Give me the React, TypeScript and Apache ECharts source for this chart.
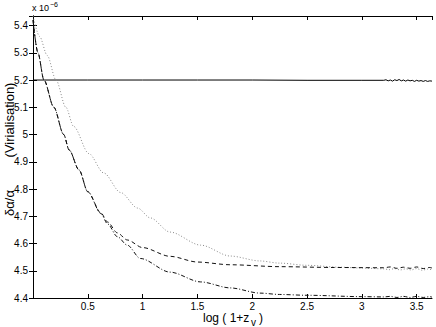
import React, { useEffect, useRef } from "react";
import * as echarts from "echarts";

// values in units of 1e-6
const solidX = [0.0, 0.5, 1.0, 1.5, 2.0, 2.5, 3.0, 3.2, 3.22, 3.24, 3.26, 3.28, 3.3, 3.32, 3.34, 3.36, 3.38, 3.4, 3.42, 3.44, 3.46, 3.48, 3.5, 3.52, 3.54, 3.56, 3.58, 3.6, 3.62, 3.64];
const solidY = [5.2, 5.2, 5.2, 5.2, 5.2, 5.199, 5.199, 5.199, 5.201, 5.197, 5.2, 5.196, 5.201, 5.198, 5.202, 5.197, 5.2, 5.196, 5.2, 5.197, 5.199, 5.195, 5.199, 5.196, 5.198, 5.195, 5.198, 5.195, 5.197, 5.196];

const dottedX = [0.0, 0.06, 0.13, 0.21, 0.3, 0.37, 0.51, 0.645, 0.8, 0.955, 1.07, 1.25, 1.53, 1.8, 2.07, 2.25, 2.5, 2.8, 3.0, 3.2, 3.25, 3.3, 3.35, 3.4, 3.45, 3.5, 3.55, 3.6, 3.64];
const dottedY = [5.435, 5.36, 5.29, 5.2, 5.1, 5.03, 4.93, 4.859, 4.787, 4.73, 4.694, 4.642, 4.594, 4.554, 4.536, 4.528, 4.52, 4.513, 4.51, 4.507, 4.504, 4.508, 4.503, 4.507, 4.503, 4.508, 4.502, 4.506, 4.504];

const dashedX = [0.0, 0.045, 0.1, 0.19, 0.28, 0.33, 0.42, 0.5, 0.62, 0.68, 0.77, 0.86, 1.0, 1.25, 1.5, 1.8, 2.25, 2.75, 3.2, 3.26, 3.32, 3.38, 3.44, 3.5, 3.56, 3.62, 3.64];
const dashedY = [5.42, 5.3, 5.2, 5.1, 5.0, 4.943, 4.87, 4.79, 4.712, 4.679, 4.639, 4.613, 4.585, 4.553, 4.532, 4.522, 4.515, 4.512, 4.511, 4.514, 4.509, 4.513, 4.509, 4.514, 4.508, 4.512, 4.51];

const dashDotX = [0.0, 0.045, 0.1, 0.19, 0.28, 0.33, 0.42, 0.5, 0.62, 0.68, 0.77, 0.86, 0.98, 1.25, 1.53, 1.8, 2.07, 2.25, 2.5, 3.0, 3.2, 3.26, 3.32, 3.38, 3.44, 3.5, 3.56, 3.62, 3.64];
const dashDotY = [5.42, 5.3, 5.2, 5.1, 5.0, 4.943, 4.87, 4.79, 4.71, 4.672, 4.625, 4.594, 4.545, 4.495, 4.459, 4.437, 4.418, 4.413, 4.41, 4.405, 4.404, 4.406, 4.402, 4.406, 4.402, 4.406, 4.402, 4.405, 4.403];

const FONT = "Liberation Sans, Arial, Helvetica, sans-serif";

const zip = (xs: number[], ys: number[]) => xs.map((x, i) => [x, ys[i]]);

export default function App() {
  const ref = useRef<HTMLDivElement>(null);
  useEffect(() => {
    if (!ref.current) return;
    const chart = echarts.init(ref.current, null, { renderer: "svg" });
    const axisLine = { show: true, lineStyle: { color: "#000", width: 1 } };
    const axisTick = { show: true, inside: true, length: 4, lineStyle: { color: "#000", width: 1 } };
    const lineSeries = (data: number[][], color: string, type: any, width: number, smooth: number) => ({
      type: "line",
      data,
      showSymbol: false,
      symbol: "none",
      smooth,
      smoothMonotone: "x",
      lineStyle: { color, type, width },
      xAxisIndex: 0,
      yAxisIndex: 0,
    });
    chart.setOption({
      animation: false,
      backgroundColor: "#fff",
      grid: { left: 33, right: 4, top: 16, bottom: 29, containLabel: false },
      xAxis: [
        {
          type: "value",
          min: 0,
          max: 3.64,
          interval: 0.5,
          position: "bottom",
          axisLine,
          axisTick,
          splitLine: { show: false },
          axisLabel: {
            show: true,
            showMinLabel: false,
            showMaxLabel: false,
            margin: 3,
            fontSize: 10,
            fontFamily: FONT,
            color: "#000",
          },
        },
        {
          type: "value",
          min: 0,
          max: 3.64,
          interval: 0.5,
          position: "top",
          axisLine,
          axisTick,
          splitLine: { show: false },
          axisLabel: { show: false },
        },
      ],
      yAxis: [
        {
          type: "value",
          min: 4.4,
          max: 5.435,
          interval: 0.1,
          position: "left",
          axisLine,
          axisTick,
          splitLine: { show: false },
          axisLabel: {
            show: true,
            showMaxLabel: false,
            margin: 5,
            fontSize: 10,
            fontFamily: FONT,
            color: "#000",
          },
        },
        {
          type: "value",
          min: 4.4,
          max: 5.435,
          interval: 0.1,
          position: "right",
          axisLine,
          axisTick,
          splitLine: { show: false },
          axisLabel: { show: false },
        },
      ],
      series: [
        lineSeries(zip(solidX, solidY), "#000", "solid", 1, 0),
        lineSeries(zip(dottedX, dottedY), "#8a8a8a", [1, 2], 1, 0.3),
        lineSeries(zip(dashedX, dashedY), "#111", [4, 3], 1, 0.3),
        lineSeries(zip(dashDotX, dashDotY), "#111", [4, 2, 1, 2], 1, 0.3),
      ],
      graphic: [
        { type: "text", x: 32, y: 8, style: { text: "x 10", fontSize: 9, fontFamily: FONT, fill: "#000", verticalAlign: "middle", align: "left" } },
        { type: "text", x: 50, y: 4, style: { text: "−6", fontSize: 7, fontFamily: FONT, fill: "#000", verticalAlign: "middle", align: "left" } },
        { type: "text", x: 203, y: 318, style: { text: "log ( 1+z", fontSize: 12, fontFamily: FONT, fill: "#000", verticalAlign: "middle", align: "left" } },
        { type: "text", x: 251, y: 322, style: { text: "v", fontSize: 10, fontFamily: FONT, fill: "#000", verticalAlign: "middle", align: "left" } },
        { type: "text", x: 259, y: 318, style: { text: ")", fontSize: 12, fontFamily: FONT, fill: "#000", verticalAlign: "middle", align: "left" } },
        { type: "text", x: 9, y: 120, rotation: Math.PI / 2, style: { text: "(Virialisation)", fontSize: 13, fontFamily: FONT, fill: "#000", verticalAlign: "middle", align: "center" } },
        { type: "text", x: 9, y: 203, rotation: Math.PI / 2, style: { text: "δα/α", fontSize: 13, fontFamily: FONT, fill: "#000", verticalAlign: "middle", align: "center" } },
      ],
    });
    return () => chart.dispose();
  }, []);
  return <div ref={ref} style={{ width: 436, height: 327, position: "absolute", left: 0, top: 0 }} />;
}
